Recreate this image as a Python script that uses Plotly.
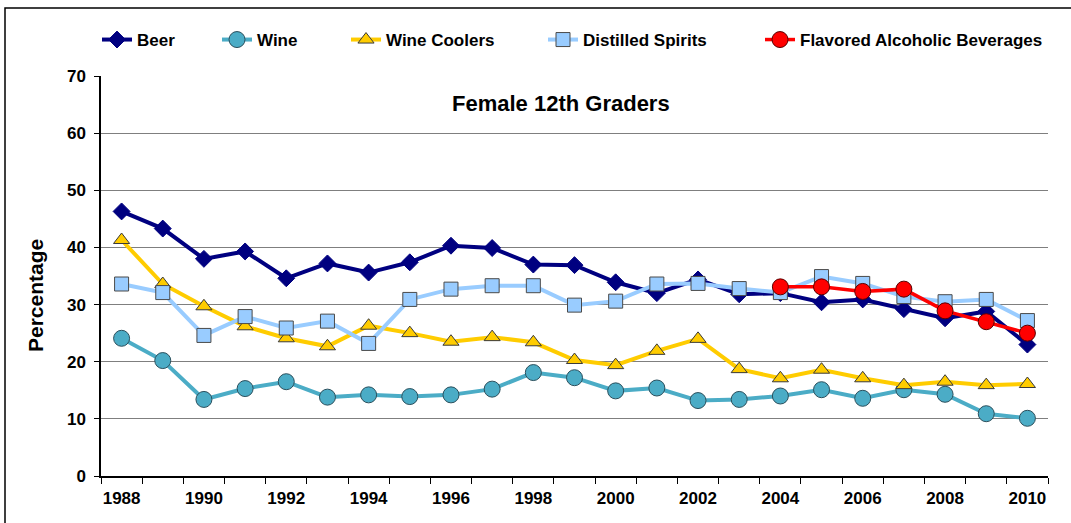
import plotly.graph_objects as go

years = list(range(1988, 2011))
beer = [46.3, 43.3, 38.0, 39.3, 34.6, 37.2, 35.6, 37.4, 40.3, 39.9, 37.0, 36.9, 33.9,
        32.0, 34.4, 31.8, 32.0, 30.4, 30.9, 29.2, 27.6, 28.8, 23.0]
wine = [24.1, 20.2, 13.4, 15.3, 16.5, 13.8, 14.2, 13.9, 14.2, 15.2, 18.1, 17.2, 14.9,
        15.4, 13.2, 13.4, 14.0, 15.1, 13.6, 15.1, 14.3, 10.9, 10.1]
wine_coolers = [41.3, 33.6, 29.7, 26.2, 24.1, 22.7, 26.3, 25.0, 23.5, 24.3, 23.4, 20.3, 19.4,
                21.9, 24.0, 18.7, 17.1, 18.6, 17.1, 15.9, 16.5, 15.9, 16.1]
spirits = [33.6, 32.1, 24.6, 27.9, 25.9, 27.1, 23.2, 30.9, 32.7, 33.3, 33.3, 29.9, 30.6,
           33.6, 33.7, 32.8, 32.1, 34.9, 33.7, 31.4, 30.5, 30.9, 27.2]
fab_years = list(range(2004, 2011))
fab = [33.1, 33.1, 32.3, 32.7, 28.9, 27.0, 25.0]

FONT = "Liberation Sans, Arial, sans-serif"

series = [
    ("Beer", years, beer, "#000080", "diamond", 13, "#000080", "legend"),
    ("Wine", years, wine, "#4BACC6", "circle", 16, "#2b4f5c", "legend2"),
    ("Wine Coolers", years, wine_coolers, "#FFCC00", "triangle-up", 14, "#3a3a3a", "legend3"),
    ("Distilled Spirits", years, spirits, "#99CCFF", "square", 14, "#4a4a4a", "legend4"),
    ("Flavored Alcoholic Beverages", fab_years, fab, "#FF0000", "circle", 16, "#5a0000", "legend5"),
]

fig = go.Figure()
for name, xs, ys, color, sym, size, outline, lg in series:
    fig.add_trace(go.Scatter(
        x=xs, y=ys, name=name, mode="lines+markers",
        line=dict(color=color, width=4 if name != "Flavored Alcoholic Beverages" else 3.5),
        marker=dict(symbol=sym, size=size, color=color, line=dict(color=outline, width=1)),
        legend=lg, cliponaxis=False,
    ))

W, H = 1071, 523
PL, PR, PT, PB = 101, 1048, 76, 476  # plot area in pixels
L, T, R, B = PL, PT, W - PR, H - PB
pw, ph = PR - PL, PB - PT

def px_x(p):
    return (p - PL) / pw

def px_y(p):
    return (PB - p) / ph

legend_origins = [97, 217, 346, 543, 760]
legend_common = dict(orientation="h", xanchor="left", yanchor="middle", y=px_y(40),
                     bgcolor="rgba(0,0,0,0)", borderwidth=0,
                     font=dict(family=FONT, size=17, color="black", weight="bold"))
fig.update_layout(
    legend=dict(x=px_x(legend_origins[0]), **legend_common),
    legend2=dict(x=px_x(legend_origins[1]), **legend_common),
    legend3=dict(x=px_x(legend_origins[2]), **legend_common),
    legend4=dict(x=px_x(legend_origins[3]), **legend_common),
    legend5=dict(x=px_x(legend_origins[4]), **legend_common),
)

fig.update_layout(
    width=W, height=H,
    margin=dict(l=L, r=R, t=T, b=B, pad=0),
    paper_bgcolor="white", plot_bgcolor="white",
    font=dict(family=FONT, color="black"),
    showlegend=True,
    xaxis=dict(
        range=[1987.5, 2010.5], tickmode="array", tickvals=list(range(1988, 2011, 2)),
        ticks="", showgrid=False, zeroline=False,
        showline=True, linecolor="black", linewidth=1.5,
        tickfont=dict(family=FONT, size=17, color="black", weight="bold"),
        ticklabelstandoff=6,
        minor=dict(ticks="outside", tick0=1987.5, dtick=1, ticklen=6,
                   tickcolor="black", tickwidth=1, showgrid=False),
    ),
    yaxis=dict(
        range=[0, 70], dtick=10, tick0=0,
        ticks="outside", ticklen=5, tickcolor="black", tickwidth=1,
        showgrid=True, gridcolor="#7f7f7f", gridwidth=1.3, zeroline=False,
        showline=True, linecolor="black", linewidth=1.5,
        tickfont=dict(family=FONT, size=17, color="black", weight="bold"),
        ticklabelstandoff=5,
    ),
    annotations=[
        dict(text="Female 12th Graders", xref="paper", yref="paper",
             x=px_x(561), y=px_y(103), xanchor="center", yanchor="middle", showarrow=False,
             font=dict(family=FONT, size=22, color="black", weight="bold")),
        dict(text="Percentage", xref="paper", yref="paper", textangle=-90,
             x=px_x(35), y=px_y(296), xanchor="center", yanchor="middle", showarrow=False,
             font=dict(family=FONT, size=21, color="black", weight="bold")),
    ],
    shapes=[
        dict(type="rect", xref="paper", yref="paper",
             x0=px_x(5), x1=px_x(1090), y0=px_y(540), y1=px_y(8),
             line=dict(color="black", width=1.5), fillcolor="rgba(0,0,0,0)", layer="below"),
    ],
)

# remove the page's default 8px body margin so the figure sits at the window origin
fig.write_html("out.html", config={"displayModeBar": False},
               post_script="document.body.style.margin='0px';")
